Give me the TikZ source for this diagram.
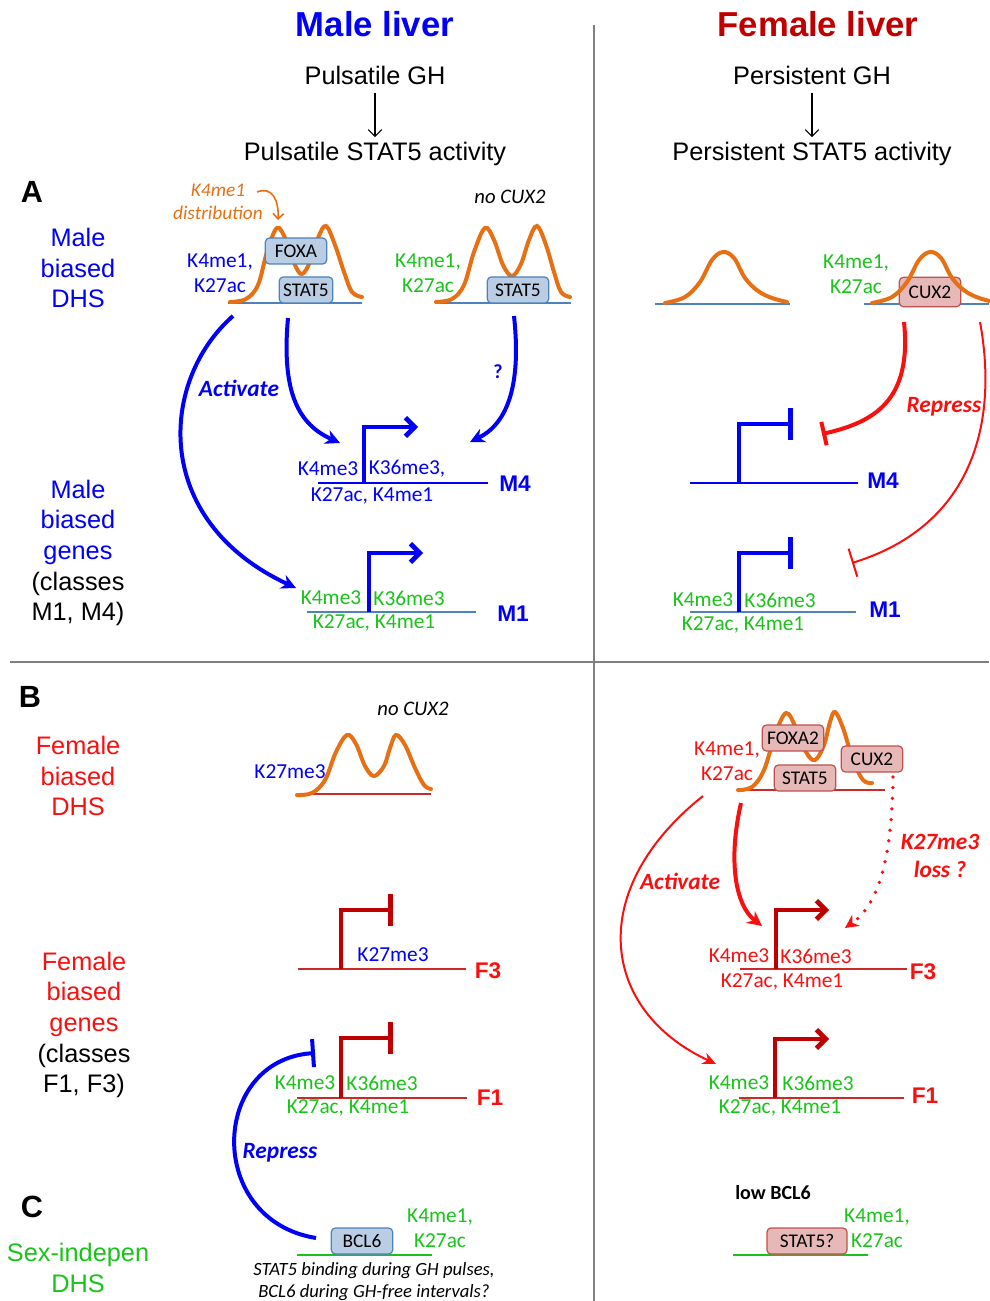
\documentclass[tikz,border=0pt]{standalone}
\usepackage{fontspec}
\setmainfont{Liberation Sans}
\newfontfamily\carl{Carlito}
\usetikzlibrary{arrows.meta}
\definecolor{mblue}{RGB}{0,0,250}
\definecolor{fred}{RGB}{192,0,0}
\definecolor{kred}{RGB}{250,15,15}
\definecolor{dnared}{RGB}{205,40,40}
\definecolor{kgreen}{RGB}{25,195,25}
\definecolor{korange}{RGB}{232,112,20}
\definecolor{dnablue}{RGB}{79,129,189}
\definecolor{tfblue}{RGB}{185,205,229}
\definecolor{tfpink}{RGB}{230,185,184}
\definecolor{tfpinkline}{RGB}{192,80,77}
\definecolor{divgray}{RGB}{128,128,128}

\begin{document}
\begin{tikzpicture}[x = 0.75pt, y = -0.75pt,
    every node/.style = {inner sep = 0pt, align = center},
    side/.style = {font = \fontsize{19}{23}\selectfont},
    panel/.style = {font = \bfseries\fontsize{23}{23}\selectfont},
    hist/.style = {font = \carl\fontsize{16}{19}\selectfont},
    verb/.style = {font = \carl\bfseries\itshape\fontsize{17.5}{21}\selectfont},
    gene/.style = {font = \bfseries\fontsize{17}{17}\selectfont},
    tf/.style = {draw = dnablue, fill = tfblue, rounded corners = 3pt, line width = 0.9pt,
        minimum width = 46pt, minimum height = 19.5pt, inner xsep = 3pt,
        font = \carl\fontsize{14.5}{14.5}\selectfont},
    tfp/.style = {tf, draw = tfpinkline, fill = tfpink},
    peak/.style = {korange, line width = 3pt, line cap = round},
    dna/.style = {line width = 1.1pt},
    promon/.style = {line width = 3.5pt, -{Straight Barb[length = 7pt, width = 14pt]}},
    promoff/.style = {line width = 3.5pt, -{Bar[width = 24pt]}},
    actarrow/.style = {line width = 3pt, -{Stealth[length = 11pt, width = 11pt]}}]
    \useasboundingbox (0,0) rectangle (989,1301);

    \draw[divgray, line width = 1pt] (594,25) -- (594,1301);
    \draw[divgray, line width = 1pt] (10,662) -- (989,662);

    \node[font = \bfseries\fontsize{26}{26}\selectfont, mblue] (mtitle) at (375,24) {Male liver};
    \node[font = \bfseries\fontsize{26}{26}\selectfont, fred] (ftitle) at (818,24) {Female liver};
    \node[font = \fontsize{19}{19}\selectfont] (mgh) at (375,75) {Pulsatile GH};
    \node[font = \fontsize{19}{19}\selectfont, anchor = base] (mstat) at (375,161) {Pulsatile STAT5 activity};
    \node[font = \fontsize{19}{19}\selectfont] (fgh) at (812,75) {Persistent GH};
    \node[font = \fontsize{19}{19}\selectfont, anchor = base] (fstat) at (812,161) {Persistent STAT5 activity};
    \draw[line width = 0.8pt, shorten <= 6pt, shorten >= 4pt, -{Straight Barb[length = 5pt, width = 10pt]}] (mgh) -- (mstat);
    \draw[line width = 0.8pt, shorten <= 6pt, shorten >= 4pt, -{Straight Barb[length = 5pt, width = 10pt]}] (fgh) -- (fstat);

    \node[panel] (pA) at (32,192) {A};
    \node[side, mblue] (mdhs) at (78,268) {Male\\biased\\DHS};
    \node[side, mblue] (mgenes) at (78,553) {Male\\biased\\genes\\\textcolor{black}{(classes}\\\textcolor{black}{M1, M4)}};

    \draw[dna, dnablue] (228,303) -- (362,303);
    \draw[peak] plot[smooth, tension = 0.6] coordinates {(230,302) (246,299) (258,285) (267,252) (277,228)
        (286,240) (295,265) (302,274) (310,262) (318,238) (326,226) (335,245) (344,272) (352,292) (362,297)};
    \node[tf] (foxa) at (296,251) {FOXA};
    \node[tf, minimum width = 40pt] (mstatA) at (306,290) {STAT5};
    \node[hist, mblue] (mmarkA) at (220,273) {K4me1,\\K27ac};
    \node[font = \carl\itshape\fontsize{14.5}{17}\selectfont, korange] (kdist) at (218,202) {K4me1\\distribution};
    \coordinate (kdiststart) at (257,192);
    \coordinate (kdistend) at (278,220);
    \draw[korange, line width = 1.2pt, -{Straight Barb[length = 4pt, width = 8pt]}]
        (kdiststart) .. controls (272,186) and (279,200) .. (kdistend);

    \draw[dna, dnablue] (435,303) -- (571,303);
    \draw[peak] plot[smooth, tension = 0.6] coordinates {(436,302) (452,299) (464,285) (474,252) (485,228)
        (494,240) (503,265) (512,276) (521,264) (529,240) (537,226) (546,245) (554,272) (561,292) (570,297)};
    \node[tf] (mstatB) at (518,290) {STAT5};
    \node[hist, kgreen] (mmarkB) at (428,273) {K4me1,\\K27ac};
    \node[font = \carl\itshape\fontsize{15.5}{15.5}\selectfont] (nocuxA) at (510,197) {no CUX2};

    \draw[dna, mblue] (318,483) -- (488,483);
    \draw[promon, mblue] (364,483) |- (418,427);
    \node[hist, mblue] (m4k4) at (328,469) {K4me3};
    \node[hist, mblue] (m4k36) at (407,469) {K36me3,};
    \node[hist, mblue] (m4k27) at (372,496) {K27ac, K4me1};
    \node[gene, mblue] (m4a) at (515,484) {M4};

    \draw[dna, dnablue] (307,612) -- (476,612);
    \draw[promon, mblue] (369,612) |- (423,553);
    \node[hist, kgreen] (m1k4) at (331,598) {K4me3};
    \node[hist, kgreen] (m1k36) at (409,598) {K36me3};
    \node[hist, kgreen] (m1k27) at (374,623) {K27ac, K4me1};
    \node[gene, mblue] (m1a) at (513,614) {M1};

    \coordinate (dhsA1) at (233,316);
    \coordinate (dhsA2) at (288,318);
    \coordinate (dhsB) at (514,316);
    \coordinate (m4in) at (340,443);
    \coordinate (m4q) at (470,442);
    \coordinate (m1in) at (296,588);
    \draw[actarrow, mblue] (dhsA1) .. controls (160,380) and (150,520) .. (m1in);
    \draw[actarrow, mblue] (dhsA2) .. controls (281,395) and (300,425) .. (m4in);
    \draw[actarrow, mblue] (dhsB) .. controls (522,390) and (505,425) .. (m4q);
    \node[verb, mblue] (actA) at (239,388) {Activate};
    \node[font = \carl\bfseries\fontsize{15}{15}\selectfont, mblue] (qA) at (498,372) {?};

    \draw[dna, dnablue] (655,304) -- (790,304);
    \draw[peak] plot[smooth, tension = 0.6] coordinates {(665,303) (685,297) (700,282) (712,260) (723,252)
        (734,258) (745,278) (758,291) (772,298) (787,302)};
    \draw[dna, dnablue] (864,304) -- (989,304);
    \node[tfp, minimum height = 22pt] (cux2A) at (930,292) {CUX2};
    \draw[peak] plot[smooth, tension = 0.6] coordinates {(872,303) (892,297) (907,282) (919,260) (930,252)
        (941,258) (952,278) (965,291) (979,298) (994,302)};
    \node[hist, kgreen] (fmarkA) at (856,274) {K4me1,\\K27ac};

    \draw[dna, mblue] (690,483) -- (858,483);
    \draw[promoff, mblue] (739,483) |- (793,424);
    \node[gene, mblue] (m4b) at (883,481) {M4};

    \draw[dna, dnablue] (690,612) -- (856,612);
    \draw[promoff, mblue] (739,612) |- (793,553);
    \node[hist, kgreen] (fm1k4) at (703,600) {K4me3};
    \node[hist, kgreen] (fm1k36) at (780,600) {K36me3};
    \node[hist, kgreen] (fm1k27) at (743,625) {K27ac, K4me1};
    \node[gene, mblue] (m1b) at (885,610) {M1};

    \coordinate (cuxA1) at (904,322);
    \coordinate (cuxA2) at (980,322);
    \coordinate (m4rep) at (822,434);
    \coordinate (m1rep) at (852,563);
    \draw[kred, line width = 3pt, -{Bar[width = 18pt]}] (cuxA1) .. controls (912,400) and (875,422) .. (m4rep);
    \draw[kred, line width = 1.5pt, -{Bar[width = 22pt]}] (cuxA2) .. controls (998,420) and (975,525) .. (m1rep);
    \node[verb, kred] (repA) at (944,407) {Repress};

    \node[panel] (pB) at (30,697) {B};
    \node[side, kred] (fdhs) at (78,776) {Female\\biased\\DHS};
    \node[side, kred] (fgenes) at (84,1025) {Female\\biased\\genes\\\textcolor{black}{(classes}\\\textcolor{black}{F1, F3)}};

    \draw[dna, dnared] (297,794) -- (431,794);
    \draw[peak] plot[smooth, tension = 0.6] coordinates {(297,795) (312,793) (325,780) (336,752) (347,735)
        (356,744) (365,766) (374,776) (384,766) (390,748) (396,735) (405,745) (415,768) (424,785) (431,789)};
    \node[hist, mblue] (k27B) at (290,772) {K27me3};
    \node[font = \carl\itshape\fontsize{15.5}{15.5}\selectfont] (nocuxB) at (413,709) {no CUX2};

    \draw[dna, dnared] (298,969) -- (466,969);
    \draw[promoff, fred] (341,969) |- (393,910);
    \node[hist, mblue] (f3k27) at (393,955) {K27me3};
    \node[gene, kred] (f3a) at (488,971) {F3};

    \draw[dna, dnared] (297,1098) -- (467,1098);
    \draw[promoff, fred] (341,1098) |- (393,1038);
    \node[hist, kgreen] (f1k4) at (305,1083) {K4me3};
    \node[hist, kgreen] (f1k36) at (382,1083) {K36me3};
    \node[hist, kgreen] (f1k27) at (348,1108) {K27ac, K4me1};
    \node[gene, kred] (f1a) at (490,1098) {F1};

    \draw[dna, dnared] (738,790) -- (885,790);
    \draw[peak] plot[smooth, tension = 0.6] coordinates {(738,790) (752,787) (764,770) (775,735) (786,713)
        (796,728) (806,752) (815,760) (824,745) (830,722) (835,712) (843,728) (853,760) (863,780) (872,783)};
    \node[tfp] (foxa2) at (793,738) {FOXA2};
    \node[tfp] (fstatB) at (805,778) {STAT5};
    \node[tfp] (cux2B) at (872,759) {CUX2};
    \node[hist, kred] (fmarkB) at (727,761) {K4me1,\\K27ac};

    \draw[dna, dnared] (740,969) -- (907,969);
    \draw[promon, fred] (776,969) |- (829,910);
    \node[hist, kred] (ff3k4) at (739,956) {K4me3};
    \node[hist, kred] (ff3k36) at (816,956) {K36me3};
    \node[hist, kred] (ff3k27) at (782,982) {K27ac, K4me1};
    \node[gene, kred] (f3b) at (923,972) {F3};

    \draw[dna, dnared] (739,1098) -- (904,1098);
    \draw[promon, fred] (775,1098) |- (829,1039);
    \node[hist, kgreen] (ff1k4) at (739,1083) {K4me3};
    \node[hist, kgreen] (ff1k36) at (818,1083) {K36me3};
    \node[hist, kgreen] (ff1k27) at (780,1108) {K27ac, K4me1};
    \node[gene, kred] (f1b) at (925,1096) {F1};

    \coordinate (dhsC1) at (703,796);
    \coordinate (dhsC2) at (741,803);
    \coordinate (cuxB) at (893,777);
    \coordinate (f1in) at (716,1064);
    \coordinate (f3in) at (762,926);
    \coordinate (f3k27in) at (845,928);
    \draw[kred, line width = 1.5pt, -{Stealth[length = 10pt, width = 9pt]}] (dhsC1) .. controls (585,890) and (600,1010) .. (f1in);
    \draw[actarrow, kred] (dhsC2) .. controls (728,860) and (735,905) .. (f3in);
    \draw[kred, line width = 2.8pt, line cap = round, dash pattern = on 0pt off 8pt, -{Stealth[length = 10pt, width = 10pt]}]
        (cuxB) .. controls (892,860) and (878,905) .. (f3k27in);
    \node[verb, kred] (actB) at (680,881) {Activate};
    \node[verb, kred] (k27loss) at (940,856) {K27me3\\loss ?};

    \node[panel] (pC) at (32,1207) {C};
    \node[side, kgreen] (sdhs) at (78,1268) {Sex-indepen\\DHS};

    \draw[dna, kgreen] (297,1255) -- (432,1255);
    \node[tf] (bcl6) at (362,1241) {BCL6};
    \node[hist, kgreen] (bmark) at (440,1228) {K4me1,\\K27ac};
    \node[font = \carl\itshape\fontsize{14}{16.5}\selectfont] (cap) at (374,1282) {STAT5 binding during GH pulses,\\BCL6 during GH-free intervals?};
    \coordinate (bclout) at (316,1238);
    \coordinate (f1rep) at (315,1053);
    \draw[mblue, line width = 3pt, -{Bar[width = 21pt]}] (bclout) .. controls (205,1220) and (210,1060) .. (f1rep);
    \node[verb, mblue] (repB) at (280,1153) {Repress};

    \node[font = \carl\bfseries\fontsize{15}{15}\selectfont] (lowbcl) at (773,1193) {low BCL6};
    \draw[dna, kgreen] (733,1255) -- (868,1255);
    \node[tfp, minimum width = 60pt] (stat5q) at (807,1241) {STAT5?};
    \node[hist, kgreen] (smark) at (877,1228) {K4me1,\\K27ac};
\end{tikzpicture}
\end{document}
